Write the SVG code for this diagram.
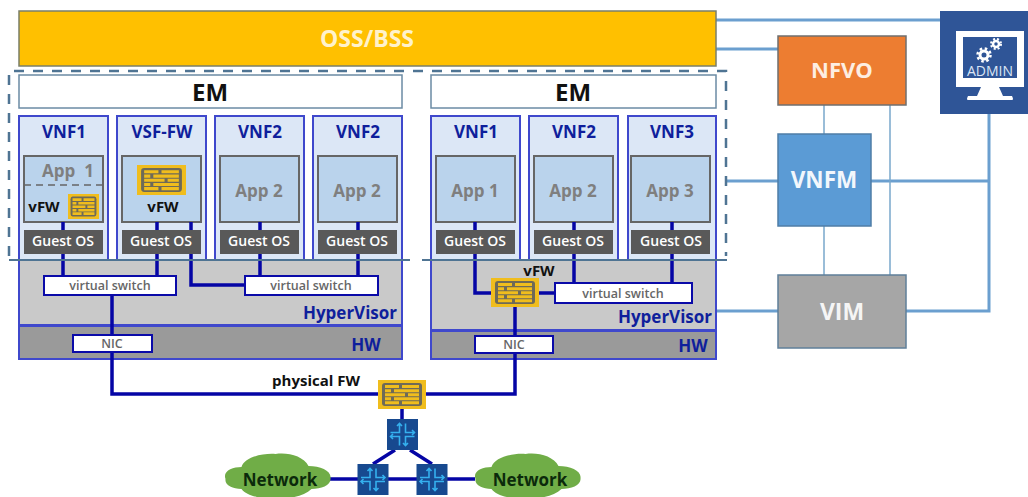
<svg xmlns="http://www.w3.org/2000/svg" width="1028" height="497" viewBox="0 0 1028 497">
<style>
text{font-family:"Open Sans","Liberation Sans",sans-serif;font-weight:700;text-anchor:middle}
.vnf{fill:#dce7f6;stroke:#3f48cc;stroke-width:2}
.app{fill:#bad3ec;stroke:#666;stroke-width:2}
.os{fill:#595959}
.hyp{fill:#c9c9c9;stroke:#3f48cc;stroke-width:2}
.hw{fill:#9a9a9a;stroke:#3f48cc;stroke-width:2}
.sw{fill:#fff;stroke:#0a0aa8;stroke-width:2}
.em{fill:#fff;stroke:#6b8ba4;stroke-width:1.5}
.t-vnf{font-size:17px;fill:#0f1f9c}
.t-app{font-size:17px;fill:#7f7f7f}
.t-os{font-size:14px;fill:#fff;font-weight:600}
.t-sw{font-size:12.5px;fill:#666;font-weight:600}
.t-blue{font-size:17px;fill:#0f1f9c}
.t-blk{font-size:15px;fill:#111}
.bus{fill:none;stroke:#0505a5;stroke-width:3.5}
.mgmt{fill:none;stroke:#6b9fcf;stroke-width:3}
.thin{fill:none;stroke:#7aa8cc;stroke-width:1.5}
.dash{fill:none;stroke:#4f7493;stroke-width:2.5;stroke-dasharray:10 9}
.solid{fill:none;stroke:#4f7493;stroke-width:2}
.router{fill:#17498f}
.arr{fill:none;stroke:#35b0ee;stroke-width:1.6}
.cloud{fill:#70ad47}
</style>
<defs>
<symbol id="fw" viewBox="0 0 48 29" preserveAspectRatio="none">
<rect width="48" height="29" fill="#f0bd1d"/>
<rect x="4" y="3" width="40" height="23" rx="3" fill="#6e6a58"/>
<path d="M7 6.500H21M24 6.500H41M7 10.800H13M16 10.800H41M7 14.800H27M30 14.800H41M7 18.800H13M16 18.800H41M7 22.800H21M24 22.800H41" stroke="#f0bd1d" stroke-width="3" fill="none"/>
</symbol>
<g id="rt">
<rect x="-15.500" y="-15.500" width="31" height="31" class="router"/>
<path class="arr" d="M-12 -2H-3V-11M-5.500 -8.500L-3 -11L-0.500 -8.500M3 -11V-2H12M9.500 -4.500L12 -2L9.500 .5M-12 2H-3V11M-9.500 -.5L-12 2L-9.500 4.500M3 11V2H12M.5 8.500L3 11L5.500 8.500"/>
</g>
<path id="cl" d="M-52 3C-55 -5 -45 -9 -36 -9C-33 -19 -14 -23 -2 -22C10 -24 26 -20 31 -10C43 -10 54 -5 53 2C54 9 44 13 34 13C26 21 10 23 -2 22C-14 23 -30 21 -36 13C-45 13 -53 9 -52 3Z"/>
</defs>
<rect width="1028" height="497" fill="#fff"/>

<g id="connectors">
<path class="mgmt" d="M716 20H940M716 49H778M726 181H778M871 181H989M989 114V311H906M716 311H778"/>
<path class="thin" d="M824 105V134M824 226V275M890 105V275"/>
</g>

<g id="oss"><rect x="19" y="11" width="697" height="55" fill="#ffc000" stroke="#7a7f6a" stroke-width="1.500"/><text x="367" y="47" font-size="23" fill="#fff2cc">OSS/BSS</text></g>
<g id="em1"><rect class="em" x="19" y="75" width="383" height="33"/><text x="210" y="101" font-size="24" fill="#111">EM</text></g>
<g id="em2"><rect class="em" x="431" y="75" width="285" height="33"/><text x="573" y="101" font-size="24" fill="#111">EM</text></g>

<g id="hyper1"><rect class="hyp" x="19" y="260" width="383" height="65"/><text class="t-blue" x="350" y="319">HyperVisor</text></g>
<g id="hw1"><rect class="hw" x="19" y="326" width="383" height="33"/><text class="t-blue" x="366" y="351">HW</text></g>
<g id="hyper2"><rect class="hyp" x="431" y="260" width="285" height="70"/><text class="t-blue" x="665" y="323">HyperVisor</text></g>
<g id="hw2"><rect class="hw" x="431" y="331" width="285" height="28"/><text class="t-blue" x="693" y="352">HW</text></g>

<g id="vnf1a"><rect class="vnf" x="19" y="116" width="89" height="144"/><text class="t-vnf" x="64" y="138">VNF1</text><rect class="app" x="24" y="156" width="79" height="66"/><path d="M24 185H103" stroke="#666" stroke-width="1.500" stroke-dasharray="7 5"/><text class="t-app" x="68" y="177" xml:space="preserve">App  1</text><text class="t-blk" x="44" y="212">vFW</text><use href="#fw" x="68" y="194" width="31" height="25"/><rect class="os" x="24" y="230" width="79" height="24"/><text class="t-os" x="63" y="246">Guest OS</text></g>
<g id="vsf"><rect class="vnf" x="117" y="116" width="89" height="144"/><text class="t-vnf" x="162" y="138">VSF-FW</text><rect class="app" x="122" y="156" width="79" height="66"/><use href="#fw" x="137" y="165" width="49" height="30"/><text class="t-blk" x="163" y="212">vFW</text><rect class="os" x="122" y="230" width="79" height="24"/><text class="t-os" x="161" y="246">Guest OS</text></g>
<g id="vnf2a"><rect class="vnf" x="215" y="116" width="89" height="144"/><text class="t-vnf" x="260" y="138">VNF2</text><rect class="app" x="220" y="156" width="79" height="66"/><text class="t-app" x="259" y="197">App 2</text><rect class="os" x="220" y="230" width="79" height="24"/><text class="t-os" x="259" y="246">Guest OS</text></g>
<g id="vnf2b"><rect class="vnf" x="313" y="116" width="89" height="144"/><text class="t-vnf" x="358" y="138">VNF2</text><rect class="app" x="318" y="156" width="79" height="66"/><text class="t-app" x="357" y="197">App 2</text><rect class="os" x="318" y="230" width="79" height="24"/><text class="t-os" x="357" y="246">Guest OS</text></g>
<g id="vnf1b"><rect class="vnf" x="431" y="116" width="89" height="144"/><text class="t-vnf" x="476" y="138">VNF1</text><rect class="app" x="436" y="156" width="79" height="66"/><text class="t-app" x="475" y="197">App 1</text><rect class="os" x="436" y="230" width="79" height="24"/><text class="t-os" x="475" y="246">Guest OS</text></g>
<g id="vnf2c"><rect class="vnf" x="529" y="116" width="89" height="144"/><text class="t-vnf" x="574" y="138">VNF2</text><rect class="app" x="534" y="156" width="79" height="66"/><text class="t-app" x="573" y="197">App 2</text><rect class="os" x="534" y="230" width="79" height="24"/><text class="t-os" x="573" y="246">Guest OS</text></g>
<g id="vnf3"><rect class="vnf" x="628" y="116" width="88" height="144"/><text class="t-vnf" x="672" y="138">VNF3</text><rect class="app" x="631" y="156" width="79" height="66"/><text class="t-app" x="670" y="197">App 3</text><rect class="os" x="631" y="230" width="79" height="24"/><text class="t-os" x="671" y="246">Guest OS</text></g>

<g id="bus-lines">
<path class="bus" d="M63 222V230M63 254V276M157 222V230M157 254V276M191 222V230M191 254V285H245M260 222V230M260 254V276M358 222V230M358 254V276M112 295V335M112 352V394H378M426 394H515V353M475 222V230M475 254V293H491M574 222V230M574 254V283M672 222V230M672 254V283M539 293H555M515 307V336M402 409V419M395 450L373 464M410 450L432 464M330 479H475"/>
</g>

<g id="dashed-frame"><path class="dash" d="M9 256V71H726V256"/><path class="solid" d="M9 260H410M422 260H727"/></g>

<g id="vswitch1"><rect class="sw" x="44" y="276" width="132" height="19"/><text class="t-sw" x="110" y="290">virtual switch</text></g>
<g id="vswitch2"><rect class="sw" x="245" y="276" width="133" height="19"/><text class="t-sw" x="311" y="290">virtual switch</text></g>
<g id="vswitch3"><rect class="sw" x="555" y="283" width="137" height="20"/><text class="t-sw" x="623" y="298">virtual switch</text></g>
<g id="nic1"><rect class="sw" x="73" y="335" width="79" height="17"/><text class="t-sw" x="112" y="348">NIC</text></g>
<g id="nic2"><rect class="sw" x="475" y="336" width="78" height="17"/><text class="t-sw" x="514" y="349">NIC</text></g>
<g id="vfw"><use href="#fw" x="491" y="278" width="48" height="29"/><text class="t-blk" x="539" y="276">vFW</text></g>
<g id="physical-fw"><use href="#fw" x="378" y="380" width="48" height="29"/><text class="t-blk" x="316" y="386">physical FW</text></g>
<g id="router1"><use href="#rt" x="402.500" y="434.500"/></g>
<g id="router2"><use href="#rt" x="373" y="479.500"/></g>
<g id="router3"><use href="#rt" x="432" y="479.500"/></g>
<g id="cloud1"><use href="#cl" class="cloud" x="277.500" y="476"/><text x="280" y="486" font-size="17" fill="#0b2a0b">Network</text></g>
<g id="cloud2"><use href="#cl" class="cloud" x="527.500" y="476"/><text x="530" y="486" font-size="17" fill="#0b2a0b">Network</text></g>

<g id="nfvo"><rect x="778" y="36" width="128" height="69" fill="#ed7d31" stroke="#6f6f6f" stroke-width="1.500"/><text x="842" y="78" font-size="22" fill="#fdeee2">NFVO</text></g>
<g id="vnfm"><rect x="778" y="134" width="93" height="92" fill="#5b9bd5" stroke="#4f7da6" stroke-width="1.500"/><text x="824" y="188" font-size="22.500" fill="#f2f7fc">VNFM</text></g>
<g id="vim"><rect x="778" y="275" width="128" height="73" fill="#a6a6a6" stroke="#5f7f99" stroke-width="1.500"/><text x="842" y="320" font-size="23" fill="#f5f5f5">VIM</text></g>
<g id="admin"><rect x="940" y="11" width="88" height="103" fill="#2f5597"/>
<rect x="956" y="31" width="68" height="56" fill="#fff"/><rect x="963" y="37" width="54" height="41" fill="#2f5597"/>
<path d="M981 87H999L1003 96H1012Q1014 100 1012 100H968Q966 100 968 96H977Z" fill="#fff"/>
<circle cx="984" cy="55" r="4" fill="none" stroke="#fff" stroke-width="3"/><circle cx="984" cy="55" r="6.500" fill="none" stroke="#fff" stroke-width="2.500" stroke-dasharray="2.500 2.600"/>
<circle cx="996" cy="44" r="3" fill="none" stroke="#fff" stroke-width="2.500"/><circle cx="996" cy="44" r="5" fill="none" stroke="#fff" stroke-width="2" stroke-dasharray="2 2"/>
<text x="990" y="76" font-size="14" fill="#dbe5f5" style="font-weight:400">ADMIN</text></g>
</svg>
